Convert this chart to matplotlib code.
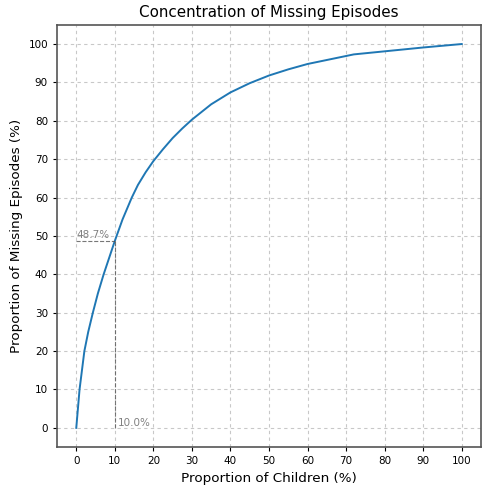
import matplotlib
matplotlib.use("Agg")
import matplotlib.pyplot as plt

prop_children = [0, 0.85, 2.1, 3.1, 4.3, 5.6, 7.1, 10, 12, 14.4, 16, 18, 20, 22.5, 25, 27.5,
                 30, 35, 40, 45, 50, 55, 60, 72, 80, 90, 100]
prop_episodes = [0, 10, 20, 25, 30, 35, 40, 48.7, 54.3, 60, 63.3, 66.6, 69.5, 72.6, 75.5, 78.0,
                 80.3, 84.3, 87.4, 89.8, 91.8, 93.4, 94.8, 97.3, 98.1, 99.1, 100]
mark_x = 10.0
mark_y = 48.7

fig = plt.figure(figsize=(5, 4.87), dpi=100)
ax = fig.add_axes([0.114, 0.082, 0.848, 0.867])
ax.plot(prop_children, prop_episodes, color="#1f77b4", linewidth=1.4)
ax.plot([0, mark_x], [mark_y, mark_y], linestyle="--", color="#555555", linewidth=0.8, alpha=0.8)
ax.plot([mark_x, mark_x], [0, mark_y], linestyle="--", color="#555555", linewidth=0.8, alpha=0.8)
ax.text(0, mark_y + 0.3, f"{mark_y:.1f}%", fontsize=7.5, color="gray", va="bottom", ha="left")
ax.text(mark_x + 0.8, 0, f"{mark_x:.1f}%", fontsize=7.5, color="gray", va="bottom", ha="left")

ax.set_xticks(range(0, 101, 10))
ax.set_yticks(range(0, 101, 10))
ax.tick_params(labelsize=7.5, length=3)
ax.grid(True, linestyle=(0, (3, 3)), color="#bbbbbb", linewidth=0.8, alpha=0.8)
for s in ax.spines.values():
    s.set_color("#555555")
    s.set_linewidth(1.2)
ax.set_title("Concentration of Missing Episodes", fontsize=10.9)
ax.set_xlabel("Proportion of Children (%)", fontsize=9.7)
ax.set_ylabel("Proportion of Missing Episodes (%)", fontsize=9.7)
fig.savefig("out.png", dpi=100)
